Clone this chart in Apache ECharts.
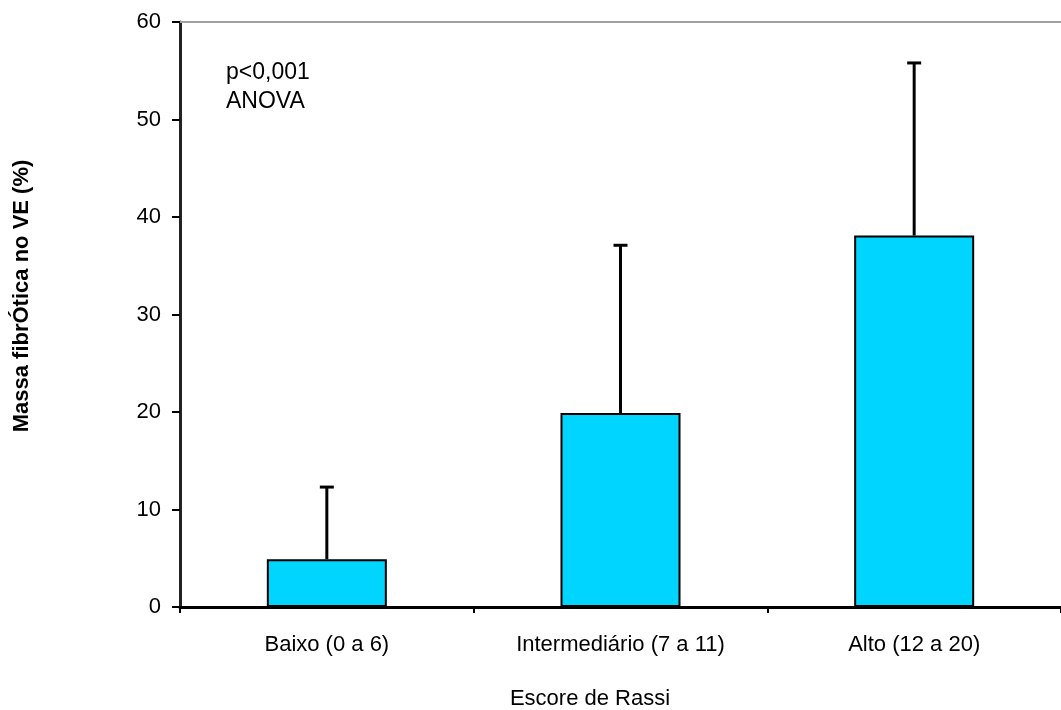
<!DOCTYPE html>
<html>
<head>
<meta charset="utf-8">
<script src="https://cdn.jsdelivr.net/npm/echarts@6/dist/echarts.min.js"></script>
<style>
  html, body { margin: 0; padding: 0; background: #fff; }
  #chart { width: 1061px; height: 710px; }
</style>
</head>
<body>
<div id="chart"></div>
<script>
// data
var categories = ['Baixo (0 a 6)', 'Intermediário (7 a 11)', 'Alto (12 a 20)'];
var means = [4.9, 19.9, 38.1];
var upper = [12.3, 37.1, 55.8];

var myChart = echarts.init(document.getElementById('chart'));

var errData = categories.map(function (c, i) { return [i, means[i], upper[i]]; });

var option = {
  animation: false,
  grid: { left: 180, right: 0, top: 22, bottom: 103 },
  xAxis: [
    {
      type: 'category',
      data: categories,
      axisLine: { lineStyle: { color: '#000', width: 3 } },
      axisTick: { show: true, length: 6, lineStyle: { color: '#000', width: 2 } },
      axisLabel: { color: '#000', fontSize: 22, fontFamily: 'Liberation Sans', margin: 27 }
    },
    {
      type: 'category',
      position: 'top',
      data: categories,
      axisLine: { show: true, lineStyle: { color: '#a0a0a0', width: 2 } },
      axisTick: { show: false },
      axisLabel: { show: false }
    }
  ],
  yAxis: {
    type: 'value',
    min: 0,
    max: 60,
    interval: 10,
    axisLine: { show: true, lineStyle: { color: '#222', width: 3 } },
    axisTick: { show: true, length: 8, lineStyle: { color: '#000', width: 2 } },
    axisLabel: { color: '#000', fontSize: 22, fontFamily: 'Liberation Sans', margin: 19 },
    splitLine: { show: false }
  },
  graphic: [
    {
      type: 'text',
      left: 226, top: 58,
      style: { text: 'p<0,001\nANOVA', fill: '#000', font: '23px "Liberation Sans"', lineHeight: 29 }
    },
    {
      type: 'text',
      x: 590, y: 699,
      style: { text: 'Escore de Rassi', fill: '#000', font: '22px "Liberation Sans"', align: 'center', verticalAlign: 'middle' }
    },
    {
      type: 'text',
      x: 22, y: 296,
      rotation: Math.PI / 2,
      style: { text: 'Massa fibrÓtica no VE (%)', fill: '#000', font: 'bold 22px "Liberation Sans"', align: 'center', verticalAlign: 'middle' }
    }
  ],
  series: [
    {
      name: 'media',
      type: 'bar',
      data: means,
      barWidth: 120,
      itemStyle: { color: '#00d5ff', borderColor: '#000', borderWidth: 2 }
    },
    {
      name: 'dp',
      type: 'custom',
      data: errData,
      z: 1,
      renderItem: function (params, api) {
        var base = api.coord([api.value(0), api.value(1)]);
        var top = api.coord([api.value(0), api.value(2)]);
        var st = { stroke: '#000', lineWidth: 3 };
        return {
          type: 'group',
          children: [
            { type: 'line', shape: { x1: base[0], y1: base[1], x2: top[0], y2: top[1] }, style: st },
            { type: 'line', shape: { x1: top[0] - 7, y1: top[1], x2: top[0] + 7, y2: top[1] }, style: st }
          ]
        };
      }
    }
  ]
};

myChart.setOption(option);
</script>
</body>
</html>
